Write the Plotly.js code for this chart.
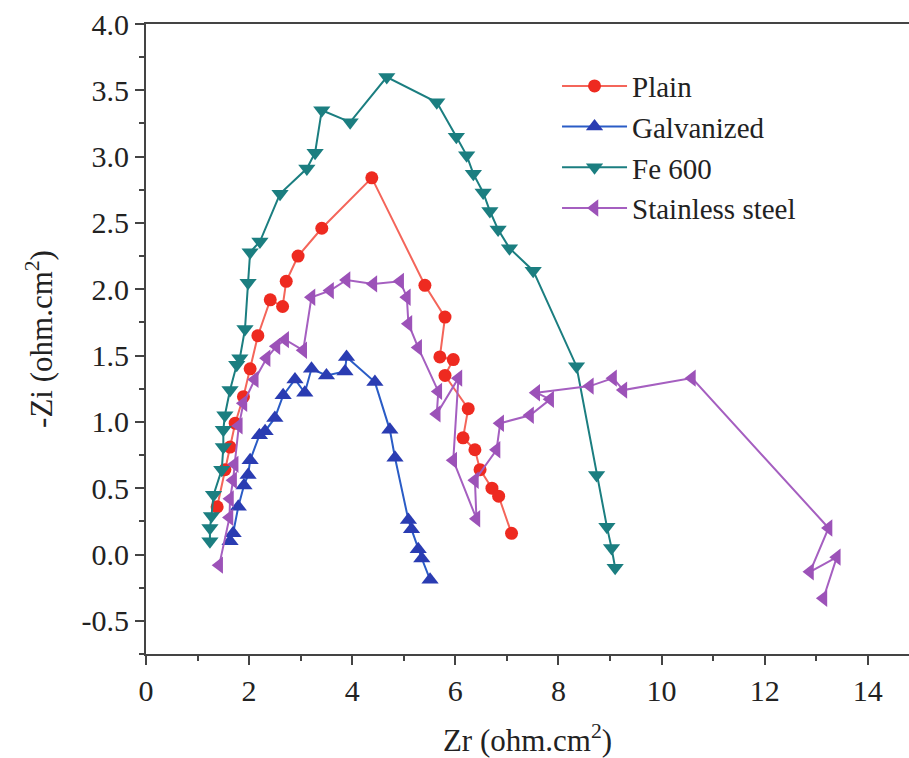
<!DOCTYPE html>
<html>
<head>
<meta charset="utf-8">
<script src="https://cdn.plot.ly/plotly-3.0.1.min.js"></script>
<style>html,body{margin:0;padding:0;background:#fff;}#chart{width:909px;height:758px;}</style>
</head>
<body>
<div id="chart"></div>
<script>
// Data (Zr, -Zi in ohm.cm^2)
const seriesNames = ["Plain", "Galvanized", "Fe 600", "Stainless steel"];

const plainZr = [1.38, 1.53, 1.63, 1.73, 1.89, 2.02, 2.17, 2.41, 2.65, 2.72, 2.95, 3.41, 4.38, 5.41, 5.80, 5.70, 5.96, 5.80, 6.25, 6.15, 6.38, 6.48, 6.71, 6.84, 7.09];
const plainZi = [0.36, 0.64, 0.81, 0.99, 1.19, 1.40, 1.65, 1.92, 1.87, 2.06, 2.25, 2.46, 2.84, 2.03, 1.79, 1.49, 1.47, 1.35, 1.10, 0.88, 0.79, 0.64, 0.50, 0.44, 0.16];

const galvZr = [1.63, 1.69, 1.79, 1.90, 1.98, 2.02, 2.20, 2.31, 2.50, 2.66, 2.89, 3.08, 3.21, 3.50, 3.86, 3.89, 4.44, 4.73, 4.83, 5.09, 5.15, 5.28, 5.35, 5.51];
const galvZi = [0.10, 0.16, 0.36, 0.52, 0.60, 0.71, 0.90, 0.93, 1.03, 1.20, 1.32, 1.22, 1.40, 1.35, 1.38, 1.49, 1.30, 0.94, 0.73, 0.26, 0.19, 0.04, -0.03, -0.19];

const feZr = [1.24, 1.24, 1.27, 1.31, 1.47, 1.50, 1.50, 1.53, 1.63, 1.76, 1.82, 1.92, 1.98, 2.02, 2.21, 2.60, 3.12, 3.28, 3.41, 3.96, 4.67, 5.64, 6.02, 6.22, 6.35, 6.54, 6.67, 6.83, 7.05, 7.51, 8.35, 8.74, 8.94, 9.03, 9.10];
const feZi = [0.10, 0.20, 0.29, 0.45, 0.64, 0.81, 0.94, 1.05, 1.24, 1.43, 1.48, 1.70, 2.05, 2.28, 2.36, 2.72, 2.91, 3.03, 3.35, 3.26, 3.60, 3.41, 3.15, 3.01, 2.87, 2.73, 2.59, 2.45, 2.31, 2.14, 1.42, 0.60, 0.21, 0.05, -0.10];

const ssZr = [1.42, 1.62, 1.63, 1.69, 1.72, 1.80, 1.89, 2.11, 2.34, 2.53, 2.70, 3.05, 3.21, 3.57, 3.89, 4.41, 4.93, 5.06, 5.09, 5.28, 5.67, 5.64, 6.06, 5.96, 6.41, 6.38, 6.80, 6.87, 7.45, 7.84, 7.57, 8.61, 9.06, 9.26, 10.59, 13.24, 12.88, 13.40, 13.14];
const ssZi = [-0.08, 0.28, 0.42, 0.56, 0.68, 0.97, 1.14, 1.32, 1.48, 1.57, 1.62, 1.54, 1.94, 1.99, 2.07, 2.04, 2.06, 1.94, 1.74, 1.56, 1.23, 1.06, 1.33, 0.71, 0.27, 0.56, 0.79, 0.99, 1.05, 1.17, 1.22, 1.27, 1.33, 1.24, 1.33, 0.20, -0.13, -0.02, -0.33];

const xTickVals = [0, 2, 4, 6, 8, 10, 12, 14];
const yTickVals = [-0.5, 0.0, 0.5, 1.0, 1.5, 2.0, 2.5, 3.0, 3.5, 4.0];

const FONT = "'Liberation Serif', 'Times New Roman', serif";

function tr(name, x, y, lineColor, markColor, symbol, size) {
  return {
    type: "scatter", mode: "lines+markers", name: name, x: x, y: y,
    line: {color: lineColor, width: 2},
    marker: {color: markColor, symbol: symbol, size: size, line: {width: 0}},
    cliponaxis: false
  };
}

const data = [
  tr(seriesNames[0], plainZr, plainZi, "#f4655a", "#ee2a20", "circle", 13),
  tr(seriesNames[1], galvZr, galvZi, "#2a5cc6", "#2a3cb2", "triangle-up", 15),
  tr(seriesNames[2], feZr, feZi, "#1b7e80", "#1b7e80", "triangle-down", 15),
  tr(seriesNames[3], ssZr, ssZi, "#a55fc0", "#9c52b8", "triangle-left", 15)
];

const layout = {
  width: 909, height: 758,
  margin: {l: 146, r: 0, t: 24, b: 104},
  paper_bgcolor: "#ffffff", plot_bgcolor: "#ffffff",
  font: {family: FONT, color: "#222", size: 30},
  showlegend: true,
  legend: {
    x: 0.5387, y: 0.942, xanchor: "left", yanchor: "top",
    bgcolor: "rgba(0,0,0,0)", borderwidth: 0,
    font: {family: FONT, size: 29, color: "#222"},
    tracegroupgap: 0, itemwidth: 65
  },
  xaxis: {
    range: [0, 14.8],
    tickmode: "array", tickvals: xTickVals, ticktext: xTickVals.map(String),
    ticks: "outside", ticklen: 9, tickwidth: 2, tickcolor: "#444",
    minor: {dtick: 1, tick0: 0, ticks: "outside", ticklen: 5, tickwidth: 2, tickcolor: "#444", showgrid: false},
    showline: true, linecolor: "#444", linewidth: 2, mirror: true,
    showgrid: false, zeroline: false,
    tickfont: {family: FONT, size: 30, color: "#222"},
    title: {text: "Zr (ohm.cm<sup>2</sup>)", font: {family: FONT, size: 31, color: "#222"}, standoff: 24}
  },
  yaxis: {
    range: [-0.75, 4.0],
    tickmode: "array", tickvals: yTickVals, ticktext: yTickVals.map(v => v.toFixed(1)),
    ticks: "outside", ticklen: 9, tickwidth: 2, tickcolor: "#444",
    minor: {dtick: 0.25, tick0: 0, ticks: "outside", ticklen: 5, tickwidth: 2, tickcolor: "#444", showgrid: false},
    showline: true, linecolor: "#444", linewidth: 2, mirror: false,
    showgrid: false, zeroline: false,
    tickfont: {family: FONT, size: 30, color: "#222"},
    title: {text: "-Zi (ohm.cm<sup>2</sup>)", font: {family: FONT, size: 31, color: "#222"}, standoff: 20}
  }
};

Plotly.newPlot("chart", data, layout, {displayModeBar: false, staticPlot: true});
</script>
</body>
</html>
